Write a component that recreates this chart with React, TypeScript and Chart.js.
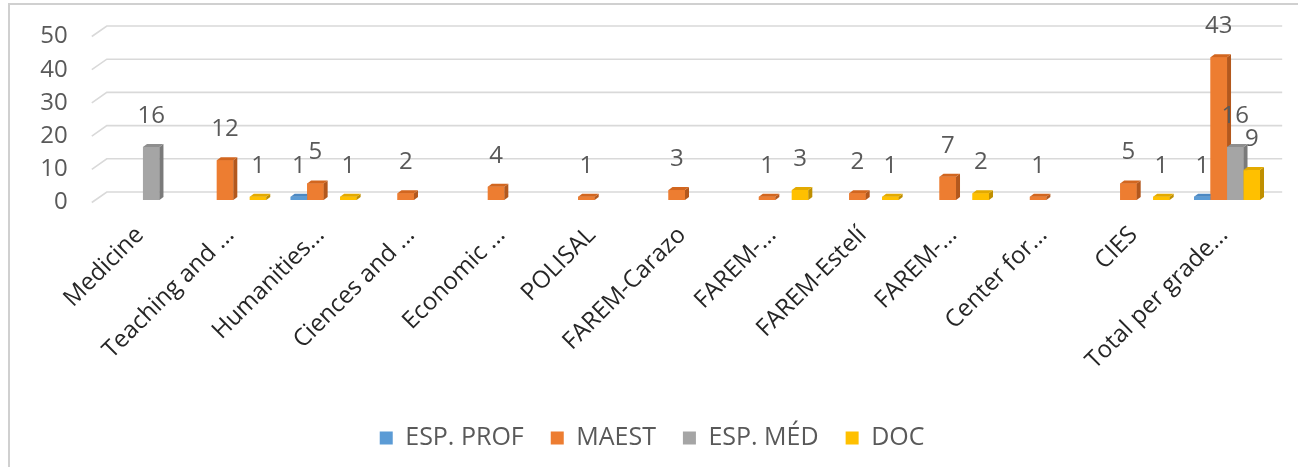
import { useEffect, useRef } from "react";
import { Chart, registerables } from "chart.js";

Chart.register(...registerables);

const categories = [
  "Medicine",
  "Teaching and ...",
  "Humanities...",
  "Ciences and ...",
  "Economic ...",
  "POLISAL",
  "FAREM-Carazo",
  "FAREM-...",
  "FAREM-Estelí",
  "FAREM-...",
  "Center for...",
  "CIES",
  "Total per grade...",
];

const seriesNames = ["ESP. PROF", "MAEST", "ESP. MÉD", "DOC"];
const espProf = [null, null, 1, null, null, null, null, null, null, null, null, null, 1];
const maest = [null, 12, 5, 2, 4, 1, 3, 1, 2, 7, 1, 5, 43];
const espMed = [16, null, null, null, null, null, null, null, null, null, null, null, 16];
const doc = [null, 1, 1, null, null, null, null, 3, 1, 2, null, 1, 9];

const frontColors = ["#5B9BD5", "#ED7D31", "#A5A5A5", "#FFC000"];
const sideColors = ["#3F73A3", "#B3581D", "#7A7A7A", "#BF8F00"];
const topColors = ["#4C88C2", "#D2661F", "#8E8E8E", "#E3AA00"];

const FONT = "'Open Sans', 'Noto Sans', sans-serif";
const DX = 4;
const DY = 3;

// back-wall gridlines, 3D bar faces and value labels
const threeD = {
  id: "threeD",
  beforeDatasetsDraw(chart: any) {
    const { ctx, chartArea, scales } = chart;
    const y = scales.y;
    ctx.save();
    ctx.strokeStyle = "#d9d9d9";
    ctx.lineWidth = 1.6;
    y.ticks.forEach((t: any) => {
      const py = y.getPixelForValue(t.value);
      ctx.beginPath();
      ctx.moveTo(chartArea.left - 6, py + 2.5);
      ctx.lineTo(chartArea.left + 9, py - 8);
      ctx.lineTo(chartArea.right + 10, py - 8);
      ctx.stroke();
    });
    ctx.restore();
  },
  afterDatasetsDraw(chart: any) {
    const { ctx } = chart;
    const poly = (pts: number[][]) => {
      ctx.beginPath();
      ctx.moveTo(pts[0][0], pts[0][1]);
      for (let k = 1; k < pts.length; k++) ctx.lineTo(pts[k][0], pts[k][1]);
      ctx.closePath();
      ctx.fill();
    };
    ctx.save();
    const labels: Array<{ x: number; y: number; text: string }> = [];
    for (let i = 0; i < categories.length; i++) {
      chart.data.datasets.forEach((ds: any, di: number) => {
        const v = ds.data[i];
        if (v == null) return;
        const el = chart.getDatasetMeta(di).data[i];
        const { x, y, base, width } = el.getProps(["x", "y", "base", "width"], true);
        const l = x - width / 2;
        const r = x + width / 2;
        ctx.fillStyle = frontColors[di];
        ctx.fillRect(l, y, width, base - y);
        ctx.fillStyle = sideColors[di];
        poly([[r, base], [r + DX, base - DY], [r + DX, y - DY], [r, y]]);
        ctx.fillStyle = topColors[di];
        poly([[l, y], [l + DX, y - DY], [r + DX, y - DY], [r, y]]);
        labels.push({ x, y: y - 31, text: String(v) });
      });
    }
    ctx.fillStyle = "#595959";
    ctx.font = `24px ${FONT}`;
    ctx.textAlign = "center";
    ctx.textBaseline = "middle";
    labels.forEach((lb) => ctx.fillText(lb.text, lb.x, lb.y));
    ctx.restore();
  },
};

function GradeChart() {
  const canvasRef = useRef<HTMLCanvasElement>(null);
  const chartRef = useRef<Chart | null>(null);

  useEffect(() => {
    if (!canvasRef.current) return;
    if (chartRef.current) chartRef.current.destroy();

    const series = [espProf, maest, espMed, doc];
    chartRef.current = new Chart(canvasRef.current, {
      type: "bar",
      data: {
        labels: categories,
        datasets: series.map((data, i) => ({
          label: seriesNames[i],
          data,
          backgroundColor: frontColors[i],
          borderWidth: 0,
          categoryPercentage: 0.73,
          barPercentage: 1,
        })),
      },
      options: {
        animation: false,
        responsive: true,
        maintainAspectRatio: false,
        layout: { padding: { left: 32, right: 25.8, top: 34, bottom: 6.5 } },
        plugins: {
          tooltip: { enabled: false },
          legend: {
            position: "bottom",
            labels: { boxWidth: 13, boxHeight: 13, padding: 27, color: "#595959", font: { size: 25, family: FONT } },
          },
        },
        scales: {
          x: {
            grid: { display: false, drawTicks: false },
            border: { display: false },
            ticks: { autoSkip: false, minRotation: 45, maxRotation: 45, padding: 21, labelOffset: -3, color: "#262626", font: { size: 24, family: FONT } },
            afterFit: (s: any) => { s.height = 198.5; s.paddingLeft = 0; s.paddingRight = 0; },
          },
          y: {
            min: 0,
            max: 50,
            grid: { display: false, drawTicks: false },
            border: { display: false },
            ticks: { autoSkip: false, stepSize: 10, padding: 30, labelOffset: 2.5, color: "#595959", font: { size: 24, family: FONT } },
            afterFit: (s: any) => { s.width = 65.8; s.paddingTop = 0; s.paddingBottom = 0; },
          },
        },
      },
      plugins: [threeD],
    });

    return () => { if (chartRef.current) chartRef.current.destroy(); };
  }, []);

  return <canvas ref={canvasRef} />;
}

export default function App() {
  return (
    <div style={{ position: "fixed", left: 0, top: 0, width: 1298, height: 467, background: "#fff", overflow: "hidden" }}>
      <div style={{ position: "absolute", left: 8, top: 3, width: 1400, height: 600, borderLeft: "2px solid #d0d0d0", borderTop: "2px solid #d0d0d0" }} />
      <div style={{ position: "absolute", left: 0, top: 0, width: 1298, height: 467 }}>
        <GradeChart />
      </div>
    </div>
  );
}
